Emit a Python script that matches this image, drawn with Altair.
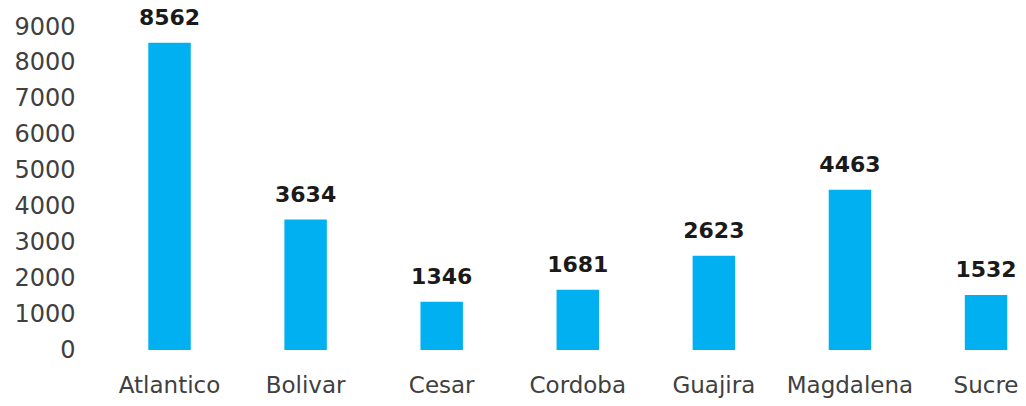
import altair as alt
import pandas as pd

departments = ["Atlantico", "Bolivar", "Cesar", "Cordoba", "Guajira", "Magdalena", "Sucre"]
values = [8562, 3634, 1346, 1681, 2623, 4463, 1532]

df = pd.DataFrame({"dept": departments, "value": values})

x_enc = alt.X(
    "dept:N",
    sort=departments,
    title=None,
    scale=alt.Scale(paddingInner=0.688, paddingOuter=0.272, align=0.855),
    axis=alt.Axis(labelAngle=0, domain=False, ticks=False, labelPadding=24,
                  labelFont="DejaVu Sans", labelFontSize=23, labelColor="#404040"),
)
y_enc = alt.Y(
    "value:Q",
    title=None,
    scale=alt.Scale(domain=[0, 9000], nice=False),
    axis=alt.Axis(values=list(range(0, 9001, 1000)), format="d", grid=False, domain=False,
                  ticks=False, labelPadding=10, labelFont="DejaVu Sans", labelFontSize=24,
                  labelColor="#404040"),
)

base = alt.Chart(df).encode(x=x_enc, y=y_enc)

bars = base.mark_bar(color="#00B0F0")
labels = base.mark_text(baseline="bottom", dy=-13, font="DejaVu Sans", fontSize=22,
                        fontWeight="bold", color="#1a1a1a").encode(text="value:Q")

chart = (bars + labels).properties(
    width=933, height=323,
    background="white",
    autosize=alt.AutoSizeParams(type="none"),
    padding={"left": 77, "top": 19, "right": 0, "bottom": 48},
).configure_view(stroke=None)

chart.save("out.html", embed_options={"renderer": "svg", "actions": False})
